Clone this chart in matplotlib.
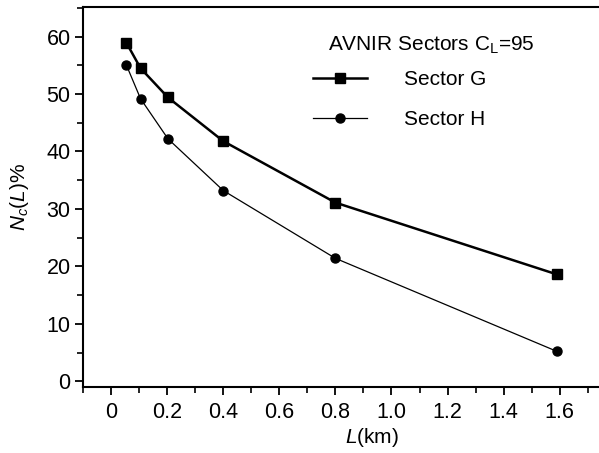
import matplotlib
matplotlib.use("Agg")
import matplotlib.pyplot as plt
from matplotlib.ticker import MultipleLocator

plt.rcParams['font.family'] = ['Liberation Sans', 'DejaVu Sans']
plt.rcParams['mathtext.fontset'] = 'custom'
plt.rcParams['mathtext.rm'] = 'Liberation Sans'
plt.rcParams['mathtext.it'] = 'Liberation Sans:italic'

L_km = [0.055, 0.105, 0.203, 0.40, 0.80, 1.59]
sector_g = [58.9, 54.5, 49.4, 41.8, 31.1, 18.6]
sector_h = [55.0, 49.2, 42.2, 33.2, 21.4, 5.2]
x_ticks = [0, 0.2, 0.4, 0.6, 0.8, 1.0, 1.2, 1.4, 1.6]
x_tick_labels = ['0', '0.2', '0.4', '0.6', '0.8', '1.0', '1.2', '1.4', '1.6']
y_ticks = [0, 10, 20, 30, 40, 50, 60]

W, H = 599, 453
fig = plt.figure(figsize=(W / 100, H / 100), dpi=100)
ax = fig.add_axes([0.1386, 0.1457, 0.8614, 0.8395])

ax.plot(L_km, sector_g, color='black', lw=1.8, marker='s', ms=7.5, label='Sector G')
ax.plot(L_km, sector_h, color='black', lw=0.9, marker='o', ms=6.5, label='Sector H')

ax.set_xlim(-0.1, 1.74)
ax.set_ylim(-1, 65.2)
ax.set_xticks(x_ticks)
ax.set_xticklabels(x_tick_labels)
ax.set_yticks(y_ticks)
ax.xaxis.set_minor_locator(MultipleLocator(0.1))
ax.yaxis.set_minor_locator(MultipleLocator(5))
ax.tick_params(axis='both', which='major', direction='out', length=6, width=1.3, labelsize=15.5)
ax.tick_params(axis='both', which='minor', direction='out', length=4, width=1.2)
ax.tick_params(axis='x', pad=5)
ax.tick_params(axis='y', pad=3)
ax.spines['right'].set_visible(False)
for s in ['left', 'bottom', 'top']:
    ax.spines[s].set_linewidth(1.5)

# axes box in pixels: x 83..599, y 387..7 (top-down)
def ax_frac(px, py):
    return (px - 83) / 516.0, (453 - py - 66) / 380.3

ax.set_xlabel('$\\mathit{L}$(km)', fontsize=15)
ax.xaxis.set_label_coords(*ax_frac(372, 438))
ax.xaxis.label.set_verticalalignment('center')
ax.set_ylabel('$\\mathit{N_c}$($\\mathit{L}$)%', fontsize=15)
ax.yaxis.set_label_coords(*ax_frac(19, 197))
ax.yaxis.label.set_verticalalignment('center')

tx, ty = ax_frac(328, 45)
ax.text(tx, ty, 'AVNIR Sectors C$_\\mathrm{L}$=95', transform=ax.transAxes,
        fontsize=15, ha='left', va='center')

lx, ly = ax_frac(313, 70)
leg = ax.legend(frameon=False, fontsize=15, handlelength=2.6, handletextpad=1.75,
                labelspacing=1.0, loc='upper left', bbox_to_anchor=(lx, ly),
                borderaxespad=0, borderpad=0)

fig.savefig('out.png', dpi=100)
